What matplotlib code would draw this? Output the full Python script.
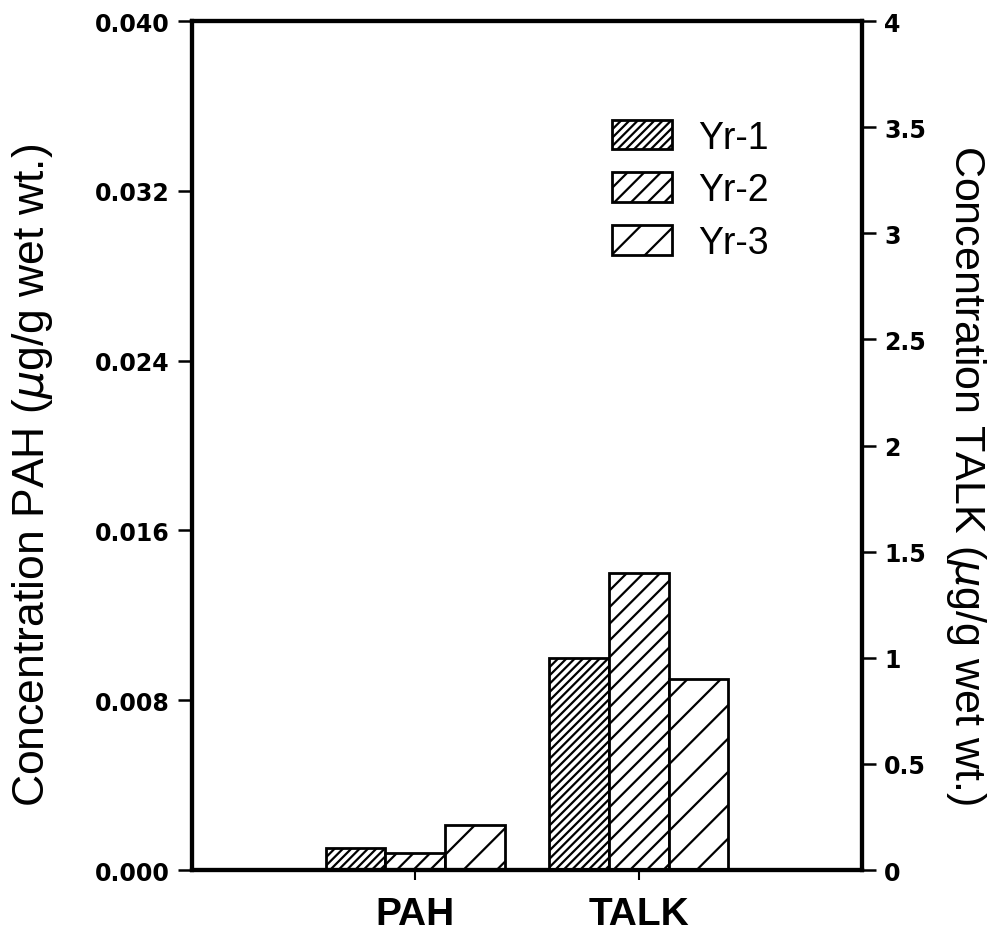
import matplotlib
matplotlib.use("Agg")
import matplotlib.pyplot as plt
import numpy as np

categories = ["PAH", "TALK"]
years = ["Yr-1", "Yr-2", "Yr-3"]
pah_values = [0.00105, 0.0008, 0.0021]     # left axis (µg/g wet wt.)
talk_values = [1.0, 1.4, 0.9]               # right axis (µg/g wet wt.)
hatches = ["////", "//", "/"]
left_ticks = [0.000, 0.008, 0.016, 0.024, 0.032, 0.040]
right_ticks = [0, 0.5, 1, 1.5, 2, 2.5, 3, 3.5, 4]

plt.rcParams['font.family'] = ['Liberation Sans', 'DejaVu Sans']
plt.rcParams['hatch.linewidth'] = 1.6

fig = plt.figure(figsize=(9.91, 9.37), dpi=100)
ax = fig.add_axes([0.1937, 0.0704, 0.8698 - 0.1937, 0.9765 - 0.0704])
ax2 = ax.twinx()

width = 0.268
pos = np.arange(1, len(categories) + 1)
offsets = [-width, 0, width]

handles = []
for i, yr in enumerate(years):
    b = ax.bar(pos[0] + offsets[i], pah_values[i], width, facecolor='white',
               edgecolor='black', linewidth=2.0, hatch=hatches[i], label=yr)
    ax2.bar(pos[1] + offsets[i], talk_values[i], width, facecolor='white',
            edgecolor='black', linewidth=2.0, hatch=hatches[i])
    handles.append(b)

ax.set_xlim(0, 3)
ax.set_ylim(0, 0.040)
ax2.set_ylim(0, 4)
tickfont = dict(family='DejaVu Sans', fontsize=17, fontweight='bold')
ax.set_yticks(left_ticks)
ax.set_yticklabels([f"{v:.3f}" for v in left_ticks], **tickfont)
ax2.set_yticks(right_ticks)
ax2.set_yticklabels([f"{v:g}" for v in right_ticks], **tickfont)
ax.set_xticks(pos)
ax.set_xticklabels(categories, fontsize=28, fontweight='bold')

for a in (ax, ax2):
    for s in a.spines.values():
        s.set_linewidth(3)
ax.tick_params(axis='y', direction='out', length=10, width=1.8, pad=6)
ax2.tick_params(axis='y', direction='out', length=10, width=1.8, pad=6)
ax.tick_params(axis='x', direction='out', length=7, width=1.5, pad=12)

ax.set_ylabel("Concentration PAH ($\\mu$g/g wet wt.)", fontsize=32)
ax2.set_ylabel("Concentration TALK ($\\mu$g/g wet wt.)", fontsize=31, rotation=270)
ax.yaxis.set_label_coords(-0.238, 0.466)
ax2.yaxis.set_label_coords(1.155, 0.466)
for lab in (ax.yaxis.label, ax2.yaxis.label):
    lab.set_verticalalignment('center')
    lab.set_horizontalalignment('center')

leg = ax.legend(handles=handles, labels=years, loc='upper left',
                bbox_to_anchor=(0.627, 0.884), frameon=False, fontsize=27,
                handlelength=1.6, handleheight=0.85, handletextpad=0.7,
                labelspacing=0.45, borderpad=0, borderaxespad=0)

fig.savefig("out.png", dpi=100)
